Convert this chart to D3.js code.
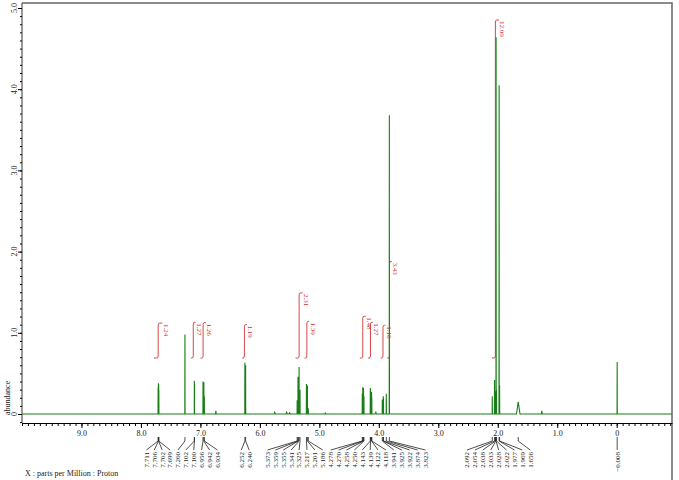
<!DOCTYPE html>
<html lang="en">
<head>
  <meta charset="UTF-8">
  <title>1H NMR spectrum</title>
  <script src="https://cdn.jsdelivr.net/npm/d3@7"></script>
  <style>
    body {
      margin: 0;
      background: #fff;
    }

    svg {
      display: block;
      font-family: "Liberation Serif", "Times New Roman", serif;
    }
  </style>
</head>
<body>
  <div id="chart"></div>
  <script>
    // peaks: chemical shift (ppm) and abundance
    const peakPpm = [7.711, 7.706, 7.702, 7.699, 7.260, 7.102, 7.100, 6.956, 6.942, 6.934, 6.740,
      6.252, 6.240, 5.750, 5.550, 5.500, 5.373, 5.359, 5.355, 5.341, 5.325, 5.217, 5.201, 5.186,
      4.900, 4.278, 4.270, 4.258, 4.250, 4.143, 4.139, 4.122, 4.118, 4.050, 3.941, 3.925, 3.922,
      3.874, 3.823, 2.092, 2.054, 2.038, 2.033, 2.028, 2.022, 1.977, 1.969, 1.656, 1.260, -0.008]
    const peakHeight = [0.33, 0.38, 0.36, 0.30, 0.98, 0.41, 0.38, 0.40, 0.39, 0.22, 0.04,
      0.63, 0.60, 0.02, 0.02, 0.015, 0.17, 0.46, 0.40, 0.58, 0.30, 0.37, 0.35, 0.07,
      0.012, 0.25, 0.33, 0.32, 0.22, 0.32, 0.30, 0.27, 0.20, 0.02, 0.18, 0.22, 0.20,
      0.25, 3.68, 0.22, 0.42, 0.28, 0.25, 4.64, 0.30, 4.05, 0.35, 0.15, 0.04, 0.64]
    // half line width in ppm for each peak
    const peakHalfWidth = [0.002, 0.002, 0.002, 0.002, 0.002, 0.001, 0.001, 0.002, 0.002, 0.002, 0.006,
      0.002, 0.002, 0.01, 0.01, 0.01, 0.002, 0.002, 0.002, 0.002, 0.002, 0.002, 0.002, 0.002,
      0.01, 0.002, 0.002, 0.002, 0.002, 0.002, 0.002, 0.002, 0.002, 0.01, 0.002, 0.002, 0.002,
      0.002, 0.002, 0.002, 0.002, 0.002, 0.002, 0.002, 0.002, 0.002, 0.002, 0.03, 0.008, 0.002]

    // picked peak labels
    const labelPpm = [7.711, 7.706, 7.702, 7.699, 7.260, 7.102, 7.100, 6.956, 6.942, 6.934,
      6.252, 6.240, 5.373, 5.359, 5.355, 5.341, 5.325, 5.217, 5.201, 5.186,
      4.278, 4.270, 4.258, 4.250, 4.143, 4.139, 4.122, 4.118, 3.941, 3.925, 3.922, 3.874, 3.823,
      2.092, 2.054, 2.038, 2.033, 2.028, 2.022, 1.977, 1.969, 1.656, -0.008]

    // integrals
    const integralFrom = [7.78, 7.16, 7.00, 6.30, 5.40, 5.25, 4.32, 4.18, 3.97, 3.86, 2.10]
    const integralTo = [7.64, 7.08, 6.91, 6.22, 5.28, 5.17, 4.22, 4.10, 3.89, 3.78, 1.98]
    const integralValue = [1.24, 1.27, 1.26, 1.19, 2.31, 1.30, 1.48, 1.27, 1.16, 3.43, 12.00]

    const xTickValues = [9, 8, 7, 6, 5, 4, 3, 2, 1, 0]
    const xTickLabels = ["9.0", "8.0", "7.0", "6.0", "5.0", "4.0", "3.0", "2.0", "1.0", "0"]
    const yTickValues = [0, 1, 2, 3, 4, 5]
    const yTickLabels = ["0", "1.0", "2.0", "3.0", "4.0", "5.0"]

    const width = 679
    const height = 480
    const plotLeft = 22
    const plotRight = 672
    const plotTop = 3
    const axisY = 423
    const green = "#187f18"
    const red = "#cc2a2a"

    const xScale = d3.scaleLinear().domain([10, -0.93]).range([plotLeft, plotRight])
    const yScale = d3.scaleLinear().domain([0, 5]).range([414, 8])
    const intScale = d3.scaleLinear().domain([0, 12]).range([358, 20])

    const svg = d3.select("#chart")
      .append("svg")
      .attr("width", width)
      .attr("height", height)

    // frame
    svg.append("path")
      .attr("d", `M${plotLeft},${plotTop}H${plotRight}V${height}`)
      .attr("fill", "none")
      .attr("stroke", "#666")
      .attr("stroke-width", 1.5)

    // x axis
    const minorX = d3.range(-9, 101).map(i => i / 10)
    svg.append("g")
      .attr("transform", `translate(0, ${axisY})`)
      .call(d3.axisBottom(xScale).tickValues(minorX).tickSize(3).tickSizeOuter(0).tickFormat(""))
    const xMajor = svg.append("g")
      .attr("transform", `translate(0, ${axisY})`)
      .call(d3.axisBottom(xScale).tickValues(xTickValues).tickSize(5).tickSizeOuter(0).tickPadding(2)
        .tickFormat((d, i) => xTickLabels[i]))
    xMajor.select(".domain").remove()
    xMajor.selectAll("text")
      .style("font-size", "8px")
      .style("font-family", "Liberation Serif, serif")
      .attr("fill", "#222")

    // y axis
    svg.append("line")
      .attr("x1", plotLeft).attr("x2", plotLeft)
      .attr("y1", plotTop).attr("y2", axisY)
      .attr("stroke", "#333")
    const minorY = d3.range(-1, 51).map(i => i / 10)
    const yMinor = svg.append("g")
      .attr("transform", `translate(${plotLeft}, 0)`)
      .call(d3.axisLeft(yScale).tickValues(minorY).tickSize(2).tickFormat(""))
    yMinor.select(".domain").remove()
    const yMajor = svg.append("g")
      .attr("transform", `translate(${plotLeft}, 0)`)
      .call(d3.axisLeft(yScale).tickValues(yTickValues).tickSize(4).tickFormat(""))
    yMajor.select(".domain").remove()

    svg.selectAll(".ylab")
      .data(yTickValues)
      .enter()
      .append("text")
      .attr("class", "ylab")
      .attr("transform", d => `translate(17, ${yScale(d)}) rotate(-90)`)
      .attr("text-anchor", "middle")
      .style("font-size", "8px")
      .attr("fill", "#222")
      .text((d, i) => yTickLabels[i])

    svg.append("text")
      .attr("transform", "translate(10, 415) rotate(-90)")
      .style("font-size", "8px")
      .attr("fill", "#222")
      .text("abundance")

    svg.append("text")
      .attr("x", 25)
      .attr("y", 476)
      .style("font-size", "8px")
      .attr("fill", "#222")
      .text("X : parts per Million : Proton")

    // spectrum
    const order = d3.range(peakPpm.length).sort((a, b) => peakPpm[b] - peakPpm[a])
    const pts = [[10, 0]]
    order.forEach(i => {
      pts.push([peakPpm[i] + peakHalfWidth[i], 0])
      pts.push([peakPpm[i], peakHeight[i]])
      pts.push([peakPpm[i] - peakHalfWidth[i], 0])
    })
    pts.push([-0.93, 0])

    const line = d3.line()
      .x(d => xScale(d[0]))
      .y(d => yScale(d[1]))

    svg.append("path")
      .datum(pts)
      .attr("d", line)
      .attr("fill", "none")
      .attr("stroke", green)
      .attr("stroke-width", 1.1)

    // integrals
    integralValue.forEach((v, i) => {
      const x0 = xScale(integralFrom[i])
      const x1 = xScale(integralTo[i])
      const xm = (x0 + x1) / 2
      const yb = intScale(0)
      const yt = intScale(v)
      svg.append("path")
        .attr("d", `M${x0},${yb}H${xm - 1.5}Q${xm},${yb} ${xm},${yb - 2}V${yt + 2}Q${xm},${yt} ${xm + 1.5},${yt}H${x1}`)
        .attr("fill", "none")
        .attr("stroke", red)
        .attr("stroke-width", 1)
        .attr("opacity", 0.85)
      svg.append("text")
        .attr("transform", `translate(${x1 + 1.5}, ${yt + 1}) rotate(90)`)
        .style("font-size", "7px")
        .attr("fill", red)
        .text(v.toFixed(2))
    })

    // peak label layout: spread overlapping labels into clusters
    const gap = 7.9
    let clusters = labelPpm.map(p => ({ xs: [xScale(p)], ppm: [p] }))
      .sort((a, b) => a.xs[0] - b.xs[0])
    const span = c => {
      const mid = d3.mean(c.xs)
      const half = (c.xs.length - 1) / 2 * gap
      return [mid - half, mid + half]
    }
    let merged = true
    while (merged) {
      merged = false
      for (let i = 0; i < clusters.length - 1; i++) {
        if (span(clusters[i])[1] + gap > span(clusters[i + 1])[0]) {
          clusters[i] = {
            xs: clusters[i].xs.concat(clusters[i + 1].xs),
            ppm: clusters[i].ppm.concat(clusters[i + 1].ppm)
          }
          clusters.splice(i + 1, 1)
          merged = true
          break
        }
      }
    }

    const stubTop = 437
    const stubBottom = 441
    const labelTop = 451
    const fmt = d3.format(".3f")
    clusters.forEach(c => {
      const start = span(c)[0]
      c.ppm.forEach((p, k) => {
        const px = xScale(p)
        const lx = start + k * gap
        svg.append("path")
          .attr("d", `M${px},${stubTop}V${stubBottom}L${lx},${labelTop - 1}`)
          .attr("fill", "none")
          .attr("stroke", "#222")
          .attr("stroke-width", 0.8)
        svg.append("text")
          .attr("transform", `translate(${lx + 2.4}, ${labelTop + 1}) rotate(-90)`)
          .attr("text-anchor", "end")
          .style("font-size", "7px")
          .attr("fill", "#222")
          .text(fmt(p))
      })
    })
  </script>
</body>
</html>
